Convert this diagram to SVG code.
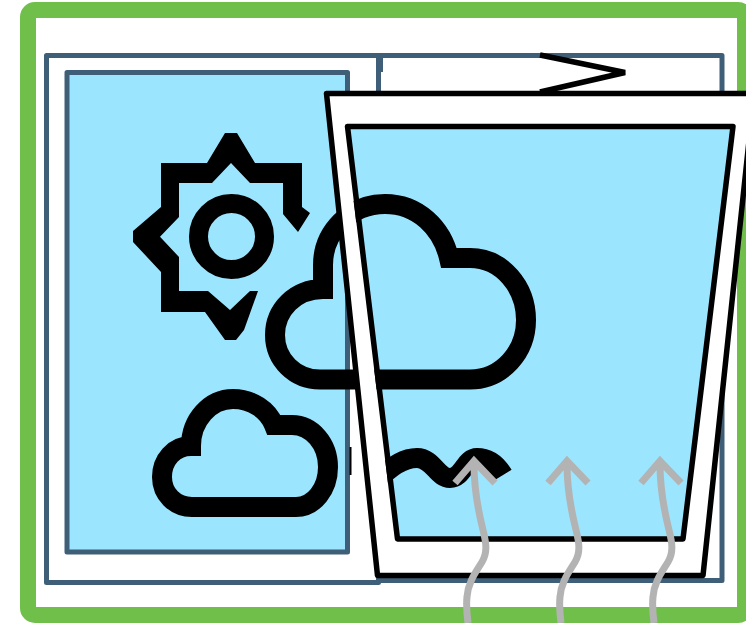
<svg xmlns="http://www.w3.org/2000/svg" width="746" height="623" viewBox="0 0 746 623">
<style>
.frame{fill:#fff;stroke:#3f5f78;stroke-width:5;stroke-linejoin:round}
.pane{fill:#9ce5ff;stroke:#3f5f78;stroke-width:5;stroke-linejoin:round}
.glass{stroke:#000;stroke-width:5.500;stroke-linejoin:round}
.icon{fill:none;stroke:#000;stroke-width:20;stroke-linejoin:miter}
.heat{fill:none;stroke:#b3b3b3;stroke-width:7}
</style>
<defs>
<path id="cloud" d="M323 289C295 289 275 310 275 335C275 360 295 379.5 320 379.5H470C502 379.5 526 352 526 320C526 287 502 258 470 258H449C442 228 418 204 385 204C350 204 323 232 323 265Z"/>
<path id="arrow" d="M455 483L474 461L495 483M474 464C474 490 478 510 483 530C486 542 488 552 482 562C476 572 468 582 467 597C466 606 467 615 468 623"/>
<clipPath id="inner"><path d="M344.500 126.500H733L683 539H394.800Z"/></clipPath>
</defs>
<rect id="outer-frame" x="28" y="10" width="717" height="605" rx="7" fill="#fff" stroke="#70bf4b" stroke-width="16"/>
<g id="right-window">
<rect class="frame" x="378.500" y="55.500" width="343.500" height="525"/>
<rect x="379" y="57" width="4" height="15" fill="#3f5f78"/>
<path d="M540 55L625 72.500L540 92" fill="none" stroke="#000" stroke-width="5.500" stroke-linejoin="miter"/>
</g>
<g id="left-window">
<rect class="frame" x="46.500" y="55.500" width="332" height="527"/>
<rect class="pane" x="67" y="72.500" width="280.500" height="479.500"/>
</g>
<g id="sun">
<circle cx="231.500" cy="236.500" r="33" fill="none" stroke="#000" stroke-width="19"/>
<path d="M225 133H237L255 163H302V207L310 213L298 232L283 214V183H250L231 163L212 183H179V217L160 236.700L179 257V291H208L230 310L250 291H258L244 330L236 340H225L205 312H161V272L133 242V231L161 207V163H207Z" fill="#000"/>
</g>
<g id="cloud-small">
<path class="icon" d="M191 446C174 446 162 460 162 477C162 494 175 507 192 507H296C314 507 328 489 328 467C328 444 312 425 292 425H274C268 410 252 399 233 399C210 399 191 420 191 446Z"/>
<rect x="349.500" y="447" width="2" height="28" fill="#000"/>
</g>
<g id="cloud-large-back">
<use href="#cloud" class="icon"/>
</g>
<g id="glazing">
<path class="glass" fill="#fff" d="M326.500 93.500H754L703 575.500H377.500Z"/>
<path class="glass" fill="#9ce5ff" d="M347.500 126.500H733L683 539H397.500Z"/>
</g>
<g id="cloud-large-front" clip-path="url(#inner)">
<use href="#cloud" class="icon"/>
<path class="icon" d="M378 480C392 465 405 458 417 458C433 458 437 478 450 478C463 478 465 458 477 458C490 458 497 465 503 475"/>
</g>
<g id="connectors">
<use href="#arrow" class="heat"/>
<use href="#arrow" class="heat" x="93"/>
<use href="#arrow" class="heat" x="186"/>
</g>
</svg>
